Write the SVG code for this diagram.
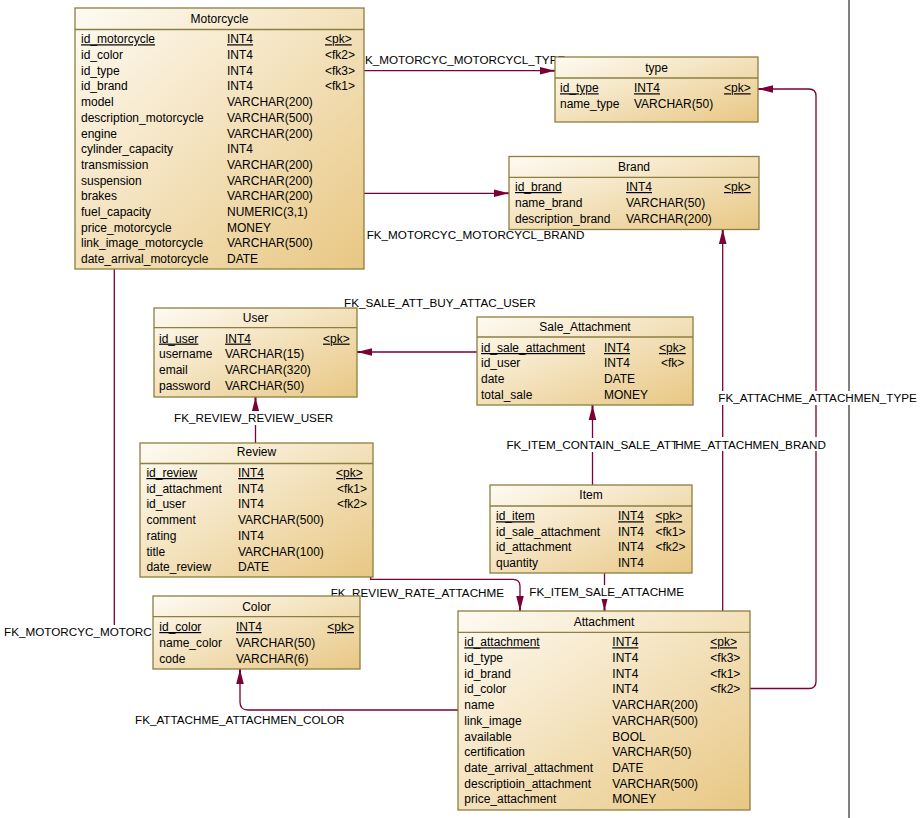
<svg xmlns="http://www.w3.org/2000/svg" width="921" height="818" viewBox="0 0 921 818">
<defs>
<linearGradient id="g" x1="0" y1="0" x2="1" y2="1">
<stop offset="0" stop-color="#fefbf3"/>
<stop offset="1" stop-color="#e8c783"/>
</linearGradient>
<marker id="arr" markerUnits="userSpaceOnUse" viewBox="-16 -5 17 10" refX="0" refY="0" markerWidth="17" markerHeight="10" orient="auto">
<path d="M-15,-3.8 L-15,3.8 L-4,1 L0,1 L0,-1 L-4,-1 z" fill="#7a0038"/>
</marker>
</defs>
<style>
text{font-family:"Liberation Sans",Arial,sans-serif;font-size:12px;fill:#000}
#labels text{font-size:11.7px}
.box{fill:url(#g);stroke:#8c7f40;stroke-width:1.3}
.sep{stroke:#8c7f40;stroke-width:1.3}
.ttl{text-anchor:middle}
.u{text-decoration:underline}
.c{fill:none;stroke:#7a0038;stroke-width:1.3}
.ca{fill:none;stroke:#7a0038;stroke-width:1.3;marker-end:url(#arr)}
.bg{fill:#fff}
</style>
<rect width="921" height="818" fill="#fff"/>
<g id="connectors">
<path class="c" d="M849,0 V818" style="stroke:#000;stroke-width:1"/>
<path class="ca" d="M364,70.7 H555"/>
<path class="ca" d="M364,193.3 H509"/>
<path class="c" d="M114.3,269 V626"/>
<path class="ca" d="M477,352 H357"/>
<path class="ca" d="M255.5,443 V397"/>
<path class="ca" d="M592.5,485 V405"/>
<path class="ca" d="M370.7,577 V579.3 H513 Q520,579.3 520,586.3 V611"/>
<path class="ca" d="M604.5,573 V611"/>
<path class="ca" d="M458,710 H248 Q240,710 240,702 V669"/>
<path class="ca" d="M722.7,611 V229"/>
<path class="ca" d="M750,688.5 H809 Q816,688.5 816,681.5 V96 Q816,89 809,89 H758"/>
</g>
<g id="labels">
<rect class="bg" x="364" y="52" width="192" height="14"/>
<text x="365" y="63.6">K_MOTORCYC_MOTORCYCL_TYPE</text>
<rect class="bg" x="365" y="228" width="222" height="14"/>
<text x="366.7" y="239.3">FK_MOTORCYC_MOTORCYCL_BRAND</text>
<rect class="bg" x="343" y="296" width="195" height="14"/>
<text x="344" y="307">FK_SALE_ATT_BUY_ATTAC_USER</text>
<rect class="bg" x="172" y="411" width="166" height="14"/>
<text x="174" y="422.3">FK_REVIEW_REVIEW_USER</text>
<rect class="bg" x="716" y="391" width="200" height="14"/>
<text x="718.3" y="402.3">FK_ATTACHME_ATTACHMEN_TYPE</text>
<rect class="bg" x="505" y="438" width="174" height="14"/>
<text x="506.4" y="449.3">FK_ITEM_CONTAIN_SALE_ATT</text>
<rect class="bg" x="679" y="437" width="149" height="14"/>
<text x="826" y="448.6" text-anchor="end">HME_ATTACHMEN_BRAND</text>
<rect class="bg" x="329" y="586" width="176" height="14"/>
<text x="330.7" y="597">FK_REVIEW_RATE_ATTACHME</text>
<rect class="bg" x="527" y="585" width="157" height="14"/>
<text x="529.3" y="596">FK_ITEM_SALE_ATTACHME</text>
<rect class="bg" x="3" y="625" width="150" height="14"/>
<text x="4" y="636.3">FK_MOTORCYC_MOTORC</text>
<rect class="bg" x="133" y="713" width="213" height="14"/>
<text x="135" y="724.3">FK_ATTACHME_ATTACHMEN_COLOR</text>
</g>
<g id="Motorcycle">
<rect class="box" x="75" y="8" width="289" height="261"/>
<line class="sep" x1="75" y1="29.5" x2="364" y2="29.5"/>
<text class="ttl" x="219.5" y="23.3">Motorcycle</text>
<text y="43.3" class="u"><tspan x="81">id_motorcycle</tspan><tspan x="227">INT4</tspan><tspan x="325">&lt;pk&gt;</tspan></text>
<text y="59"><tspan x="81">id_color</tspan><tspan x="227">INT4</tspan><tspan x="325">&lt;fk2&gt;</tspan></text>
<text y="74.7"><tspan x="81">id_type</tspan><tspan x="227">INT4</tspan><tspan x="325">&lt;fk3&gt;</tspan></text>
<text y="90.4"><tspan x="81">id_brand</tspan><tspan x="227">INT4</tspan><tspan x="325">&lt;fk1&gt;</tspan></text>
<text y="106.1"><tspan x="81">model</tspan><tspan x="227">VARCHAR(200)</tspan></text>
<text y="121.8"><tspan x="81">description_motorcycle</tspan><tspan x="227">VARCHAR(500)</tspan></text>
<text y="137.5"><tspan x="81">engine</tspan><tspan x="227">VARCHAR(200)</tspan></text>
<text y="153.2"><tspan x="81">cylinder_capacity</tspan><tspan x="227">INT4</tspan></text>
<text y="168.9"><tspan x="81">transmission</tspan><tspan x="227">VARCHAR(200)</tspan></text>
<text y="184.6"><tspan x="81">suspension</tspan><tspan x="227">VARCHAR(200)</tspan></text>
<text y="200.3"><tspan x="81">brakes</tspan><tspan x="227">VARCHAR(200)</tspan></text>
<text y="216"><tspan x="81">fuel_capacity</tspan><tspan x="227">NUMERIC(3,1)</tspan></text>
<text y="231.7"><tspan x="81">price_motorcycle</tspan><tspan x="227">MONEY</tspan></text>
<text y="247.4"><tspan x="81">link_image_motorcycle</tspan><tspan x="227">VARCHAR(500)</tspan></text>
<text y="263.1"><tspan x="81">date_arrival_motorcycle</tspan><tspan x="227">DATE</tspan></text>
</g>
<g id="type">
<rect class="box" x="555" y="57" width="203" height="65"/>
<line class="sep" x1="555" y1="78" x2="758" y2="78"/>
<text class="ttl" x="656.5" y="72.3">type</text>
<text y="92.3" class="u"><tspan x="560">id_type</tspan><tspan x="634">INT4</tspan><tspan x="724">&lt;pk&gt;</tspan></text>
<text y="108"><tspan x="560">name_type</tspan><tspan x="634">VARCHAR(50)</tspan></text>
</g>
<g id="Brand">
<rect class="box" x="509" y="156.5" width="250" height="73"/>
<line class="sep" x1="509" y1="177.3" x2="759" y2="177.3"/>
<text class="ttl" x="634" y="171">Brand</text>
<text y="191" class="u"><tspan x="515">id_brand</tspan><tspan x="626">INT4</tspan><tspan x="724">&lt;pk&gt;</tspan></text>
<text y="207"><tspan x="515">name_brand</tspan><tspan x="626">VARCHAR(50)</tspan></text>
<text y="223"><tspan x="515">description_brand</tspan><tspan x="626">VARCHAR(200)</tspan></text>
</g>
<g id="User">
<rect class="box" x="154" y="308" width="203" height="89"/>
<line class="sep" x1="154" y1="327.7" x2="357" y2="327.7"/>
<text class="ttl" x="255.5" y="322">User</text>
<text y="342.6" class="u"><tspan x="159">id_user</tspan><tspan x="225">INT4</tspan><tspan x="323">&lt;pk&gt;</tspan></text>
<text y="358.2"><tspan x="159">username</tspan><tspan x="225">VARCHAR(15)</tspan></text>
<text y="374.1"><tspan x="159">email</tspan><tspan x="225">VARCHAR(320)</tspan></text>
<text y="389.9"><tspan x="159">password</tspan><tspan x="225">VARCHAR(50)</tspan></text>
</g>
<g id="Sale_Attachment">
<rect class="box" x="477" y="317" width="216" height="88"/>
<line class="sep" x1="477" y1="337" x2="693" y2="337"/>
<text class="ttl" x="585" y="330.5">Sale_Attachment</text>
<text y="352" class="u"><tspan x="481">id_sale_attachment</tspan><tspan x="604">INT4</tspan><tspan x="659">&lt;pk&gt;</tspan></text>
<text y="367.2"><tspan x="481">id_user</tspan><tspan x="604">INT4</tspan><tspan x="661">&lt;fk&gt;</tspan></text>
<text y="383"><tspan x="481">date</tspan><tspan x="604">DATE</tspan></text>
<text y="398.8"><tspan x="481">total_sale</tspan><tspan x="604">MONEY</tspan></text>
</g>
<g id="Review">
<rect class="box" x="140" y="443" width="233" height="134"/>
<line class="sep" x1="140" y1="463.5" x2="373" y2="463.5"/>
<text class="ttl" x="256.5" y="456">Review</text>
<text y="477" class="u"><tspan x="146.4">id_review</tspan><tspan x="238">INT4</tspan><tspan x="336">&lt;pk&gt;</tspan></text>
<text y="492.7"><tspan x="146.4">id_attachment</tspan><tspan x="238">INT4</tspan><tspan x="337">&lt;fk1&gt;</tspan></text>
<text y="508.4"><tspan x="146.4">id_user</tspan><tspan x="238">INT4</tspan><tspan x="337">&lt;fk2&gt;</tspan></text>
<text y="524.1"><tspan x="146.4">comment</tspan><tspan x="238">VARCHAR(500)</tspan></text>
<text y="539.8"><tspan x="146.4">rating</tspan><tspan x="238">INT4</tspan></text>
<text y="555.5"><tspan x="146.4">title</tspan><tspan x="238">VARCHAR(100)</tspan></text>
<text y="571.2"><tspan x="146.4">date_review</tspan><tspan x="238">DATE</tspan></text>
</g>
<g id="Item">
<rect class="box" x="490" y="485" width="202" height="88"/>
<line class="sep" x1="490" y1="506" x2="692" y2="506"/>
<text class="ttl" x="591" y="499">Item</text>
<text y="520.3" class="u"><tspan x="496">id_item</tspan><tspan x="618">INT4</tspan><tspan x="655.5">&lt;pk&gt;</tspan></text>
<text y="535.8"><tspan x="496">id_sale_attachment</tspan><tspan x="618">INT4</tspan><tspan x="655.5">&lt;fk1&gt;</tspan></text>
<text y="551.2"><tspan x="496">id_attachment</tspan><tspan x="618">INT4</tspan><tspan x="655.5">&lt;fk2&gt;</tspan></text>
<text y="567"><tspan x="496">quantity</tspan><tspan x="618">INT4</tspan></text>
</g>
<g id="Color">
<rect class="box" x="153" y="596" width="207" height="73"/>
<line class="sep" x1="153" y1="616.7" x2="360" y2="616.7"/>
<text class="ttl" x="256.5" y="611">Color</text>
<text y="631" class="u"><tspan x="159.3">id_color</tspan><tspan x="236">INT4</tspan><tspan x="327.3">&lt;pk&gt;</tspan></text>
<text y="647"><tspan x="159.3">name_color</tspan><tspan x="236">VARCHAR(50)</tspan></text>
<text y="663"><tspan x="159.3">code</tspan><tspan x="236">VARCHAR(6)</tspan></text>
</g>
<g id="Attachment">
<rect class="box" x="458" y="611" width="292" height="199"/>
<line class="sep" x1="458" y1="632.3" x2="750" y2="632.3"/>
<text class="ttl" x="604" y="626">Attachment</text>
<text y="646.3" class="u"><tspan x="464.3">id_attachment</tspan><tspan x="612.3">INT4</tspan><tspan x="710.3">&lt;pk&gt;</tspan></text>
<text y="662"><tspan x="464.3">id_type</tspan><tspan x="612.3">INT4</tspan><tspan x="710.3">&lt;fk3&gt;</tspan></text>
<text y="677.7"><tspan x="464.3">id_brand</tspan><tspan x="612.3">INT4</tspan><tspan x="710.3">&lt;fk1&gt;</tspan></text>
<text y="693.4"><tspan x="464.3">id_color</tspan><tspan x="612.3">INT4</tspan><tspan x="710.3">&lt;fk2&gt;</tspan></text>
<text y="709.1"><tspan x="464.3">name</tspan><tspan x="612.3">VARCHAR(200)</tspan></text>
<text y="724.8"><tspan x="464.3">link_image</tspan><tspan x="612.3">VARCHAR(500)</tspan></text>
<text y="740.5"><tspan x="464.3">available</tspan><tspan x="612.3">BOOL</tspan></text>
<text y="756.2"><tspan x="464.3">certification</tspan><tspan x="612.3">VARCHAR(50)</tspan></text>
<text y="771.9"><tspan x="464.3">date_arrival_attachment</tspan><tspan x="612.3">DATE</tspan></text>
<text y="787.6"><tspan x="464.3">descriptioin_attachment</tspan><tspan x="612.3">VARCHAR(500)</tspan></text>
<text y="803.3"><tspan x="464.3">price_attachment</tspan><tspan x="612.3">MONEY</tspan></text>
</g>
</svg>
